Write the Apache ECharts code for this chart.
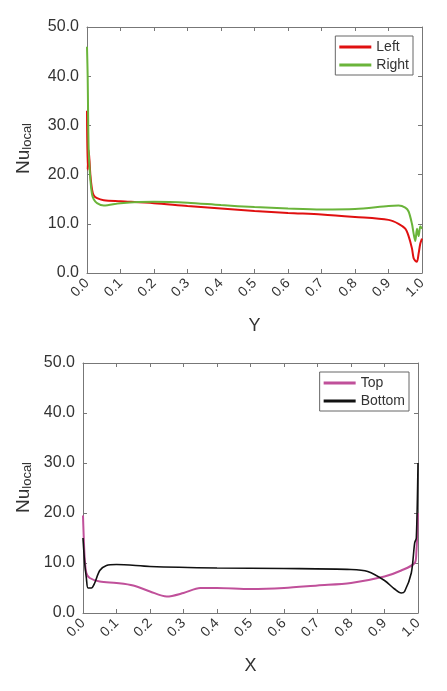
<!DOCTYPE html>
<html>
<head>
<meta charset="utf-8">
<script src="https://cdn.jsdelivr.net/npm/echarts@6/dist/echarts.min.js"></script>
<style>html,body{margin:0;padding:0;background:#fff}#c{width:447px;height:691px}</style>
</head>
<body>
<div id="c"></div>
<script>
// 上图：左右壁面
var yPos = [0, 0.002, 0.005, 0.01, 0.015, 0.02, 0.03, 0.05, 0.1, 0.2, 0.3, 0.4, 0.5, 0.6, 0.7, 0.8, 0.9, 0.93, 0.95, 0.96, 0.97, 0.975, 0.98, 0.985, 0.99, 0.995, 1.0];
var leftNu = [33, 21, 25, 20, 17, 15.8, 15.2, 14.8, 14.6, 14.2, 13.6, 13.1, 12.6, 12.2, 11.9, 11.4, 10.8, 10, 9, 7.5, 5, 3, 2.5, 2.3, 4, 6, 7];
var rightNu = [46, 40, 25, 19, 16, 15, 14.2, 13.7, 14.2, 14.5, 14.3, 13.8, 13.4, 13.1, 12.9, 13, 13.6, 13.7, 13.3, 12.5, 10, 8, 6.5, 9, 7.5, 9.5, 9];
// 下图：上下壁面
var xTop = [0, 0.005, 0.01, 0.02, 0.05, 0.1, 0.15, 0.2, 0.25, 0.3, 0.35, 0.4, 0.5, 0.6, 0.7, 0.8, 0.9, 0.95, 0.99, 0.995, 1.0];
var topNu = [19.5, 11, 8, 7, 6.3, 6, 5.5, 4.3, 3.3, 4, 5, 5, 4.8, 5, 5.5, 6, 7.3, 8.5, 10, 12, 20];
var xBottom = [0, 0.005, 0.01, 0.015, 0.025, 0.035, 0.05, 0.07, 0.1, 0.2, 0.4, 0.6, 0.8, 0.85, 0.9, 0.93, 0.95, 0.96, 0.98, 0.99, 0.995, 1.0];
var bottomNu = [15, 10, 7, 5, 5, 6, 8.5, 9.5, 9.7, 9.3, 9, 8.9, 8.7, 8.3, 6.5, 4.8, 4, 4.3, 8, 14, 15, 30];

function zip(xs, ys){
  var out = [];
  for (var i = 0; i < xs.length; i++) out.push([xs[i], ys[i]]);
  return out;
}

var font = 'Liberation Sans, Arial, sans-serif';
var txt = '#333';
var axLine = {show: true, onZero: false, lineStyle: {color: '#777'}};
var axTick = {show: true, inside: true, length: 4, lineStyle: {color: '#777'}};
function xAx(grid, name){
  return {
    type: 'value', gridIndex: grid, min: 0, max: 1, interval: 0.1, position: 'bottom',
    name: name, nameLocation: 'middle', nameGap: 44,
    nameTextStyle: {fontSize: 18, color: txt, fontFamily: font},
    axisLine: axLine, axisTick: axTick,
    axisLabel: {rotate: 45, fontSize: 14, color: txt, fontFamily: font, formatter: function(v){return v.toFixed(1);}},
    splitLine: {show: false}
  };
}
function xAxTop(grid){
  return {type: 'value', gridIndex: grid, position: 'top', min: 0, max: 1, interval: 0.1,
    axisLine: axLine, axisTick: axTick,
    axisLabel: {show: false}, splitLine: {show: false}};
}
function yAx(grid){
  return {
    type: 'value', gridIndex: grid, min: 0, max: 50, interval: 10, position: 'left',
    axisLine: axLine, axisTick: axTick,
    axisLabel: {fontSize: 16, color: txt, fontFamily: font, formatter: function(v){return v.toFixed(1);}},
    splitLine: {show: false}
  };
}
function yAxRight(grid){
  return {type: 'value', gridIndex: grid, position: 'right', min: 0, max: 50, interval: 10,
    axisLine: axLine, axisTick: axTick,
    axisLabel: {show: false}, splitLine: {show: false}};
}
function line(name, data, xi, yi, color, w){
  return {name: name, type: 'line', xAxisIndex: xi, yAxisIndex: yi, data: data,
    showSymbol: false, smooth: 0.3, lineStyle: {color: color, width: w}, itemStyle: {color: color}};
}
function nuLabel(top){
  return {type: 'text', left: 14, top: top, rotation: Math.PI / 2,
    style: {text: '{a|Nu}{b|local}', rich: {
      a: {fontSize: 19, fill: txt, fontFamily: font},
      b: {fontSize: 13, fill: txt, fontFamily: font, padding: [8, 0, 0, 0]}
    }}};
}
function legend(names, right, top){
  return {data: names, right: right, top: top, orient: 'vertical', itemGap: 4,
    itemWidth: 32, itemHeight: 3, icon: 'rect', borderColor: '#666', borderWidth: 1, borderRadius: 0,
    padding: [4, 4, 3, 4], textStyle: {fontSize: 14, color: txt, fontFamily: font}};
}

var chart = echarts.init(document.getElementById('c'));
chart.setOption({
  animation: false,
  backgroundColor: '#fff',
  grid: [
    {left: 87, right: 25, top: 27, height: 246},
    {left: 83, right: 29, top: 363, height: 250}
  ],
  legend: [legend(['Left', 'Right'], 34, 36), legend(['Top', 'Bottom'], 38, 372)],
  xAxis: [xAx(0, 'Y'), xAx(1, 'X'), xAxTop(0), xAxTop(1)],
  yAxis: [yAx(0), yAx(1), yAxRight(0), yAxRight(1)],
  graphic: [nuLabel(123), nuLabel(462)],
  series: [
    line('Left', zip(yPos, leftNu), 0, 0, '#e01010', 2),
    line('Right', zip(yPos, rightNu), 0, 0, '#6ab43a', 2),
    line('Top', zip(xTop, topNu), 1, 1, '#c0509a', 2),
    line('Bottom', zip(xBottom, bottomNu), 1, 1, '#111111', 1.6)
  ]
});
</script>
</body>
</html>
